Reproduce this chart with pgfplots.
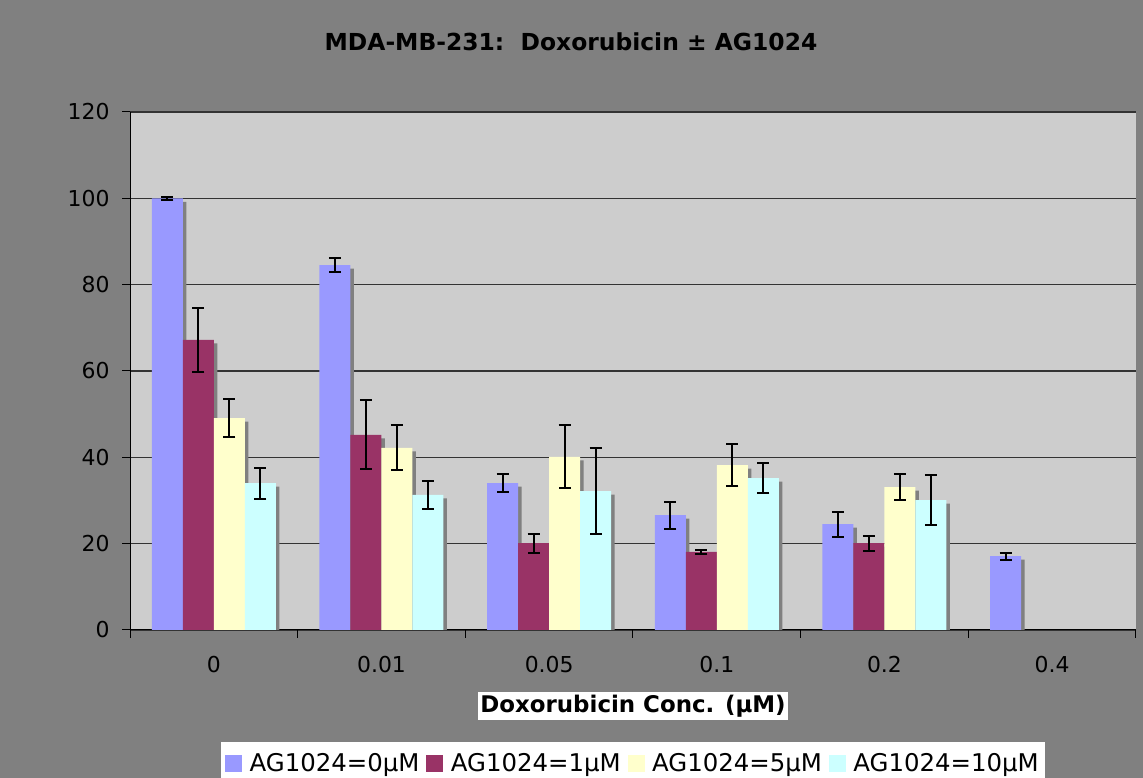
\documentclass[border=0pt]{standalone}
\usepackage{pgfplots}
\pgfplotsset{compat=1.18}
\usepackage{pgfplotstable}
\usepackage{fontspec}
\setmainfont{DejaVu Sans}
\definecolor{bg}{HTML}{808080}
\definecolor{plotbg}{HTML}{CDCDCD}
\definecolor{gridc}{HTML}{333333}
\definecolor{barA}{HTML}{9999FF}
\definecolor{barB}{HTML}{993366}
\definecolor{barC}{HTML}{FFFFCC}
\definecolor{barD}{HTML}{CCFFFF}
\definecolor{shadowc}{HTML}{808080}

\pgfplotstableread{
x y e
0 100.0 0.3
1 84.5 1.6
2 34.0 2.1
3 26.6 3.1
4 24.5 2.9
5 17.1 0.8
}\tblA
\pgfplotstableread{
x y e
0 67.2 7.5
1 45.2 8.0
2 20.1 2.2
3 18.1 0.4
4 20.1 1.75
}\tblB
\pgfplotstableread{
x y e
0 49.1 4.3
1 42.2 5.2
2 40.1 7.3
3 38.2 4.8
4 33.1 3.1
}\tblC
\pgfplotstableread{
x y e
0 34.0 3.6
1 31.3 3.3
2 32.2 10.0
3 35.2 3.5
4 30.1 5.8
}\tblD

\pgfplotsset{
  legsq/.style={legend image code/.code={\fill[#1] (0bp,-8bp) rectangle (16bp,8bp);}},
}

\begin{document}
\begin{tikzpicture}
\useasboundingbox (0,0) rectangle (1143bp,778bp);
\fill[bg] (0,0) rectangle (1143bp,778bp);
\node[font=\bfseries\fontsize{23.5}{28}\selectfont, text=black] at (571bp,736bp) {MDA-MB-231:\ \ Doxorubicin ± AG1024};
\begin{axis}[
  at={(130bp,148bp)}, anchor=south west,
  scale only axis, width=1006bp, height=518bp,
  ybar=0pt, bar width=31bp,
  xmin=-0.5, xmax=5.5, ymin=0, ymax=120,
  ytick={0,20,...,120},
  xtick={-0.5,0.5,...,5.5},
  xticklabels={0,0.01,0.05,0.1,0.2,0.4},
  x tick label as interval,
  axis x line*=bottom, axis y line*=left,
  axis line style={-, black, line width=1bp},
  tick align=outside, major tick length=8bp,
  tick style={black, line width=1bp},
  ymajorgrids, grid style={line width=1.2bp, color=gridc},
  axis background/.style={fill=plotbg},
  /pgf/number format/assume math mode=true,
  tick label style={font=\fontsize{22}{26}\selectfont},
  yticklabel style={xshift=-9bp},
  xticklabel style={yshift=-15bp},
  xlabel={Doxorubicin Conc. (µM)},
  xlabel style={at={(axis description cs:0.5,-0.147)}, anchor=center, fill=white,
    font=\bfseries\fontsize{23}{27}\selectfont, inner xsep=2bp, inner ysep=3bp},
  legend style={at={(axis description cs:0.5,-0.258)}, anchor=center,
    legend columns=4, draw=none, fill=white, font=\fontsize{24.5}{29}\selectfont,
    inner xsep=4bp, inner ysep=10bp,
    /tikz/every odd column/.append style={column sep=6bp},
    /tikz/every even column/.append style={column sep=5bp}},
  error bars/y dir=both, error bars/y explicit,
  error bars/error bar style={black, line width=2bp},
  error bars/error mark options={black, line width=2bp, mark size=6bp, rotate=90},
]
\addlegendimage{legsq=barA}
\addlegendentry{AG1024=0µM}
\addlegendimage{legsq=barB}
\addlegendentry{AG1024=1µM}
\addlegendimage{legsq=barC}
\addlegendentry{AG1024=5µM}
\addlegendimage{legsq=barD}
\addlegendentry{AG1024=10µM}

\addplot[forget plot, bar shift=-46.5bp, fill=barA, draw=none,
  preaction={fill=shadowc, transform canvas={xshift=3.5bp,yshift=-3.5bp}}]
  table[x=x, y=y, y error=e] {\tblA};
\addplot[forget plot, bar shift=-15.5bp, fill=barB, draw=none,
  preaction={fill=shadowc, transform canvas={xshift=3.5bp,yshift=-3.5bp}}]
  table[x=x, y=y, y error=e] {\tblB};
\addplot[forget plot, bar shift=15.5bp, fill=barC, draw=none,
  preaction={fill=shadowc, transform canvas={xshift=3.5bp,yshift=-3.5bp}}]
  table[x=x, y=y, y error=e] {\tblC};
\addplot[forget plot, bar shift=46.5bp, fill=barD, draw=none,
  preaction={fill=shadowc, transform canvas={xshift=3.5bp,yshift=-3.5bp}}]
  table[x=x, y=y, y error=e] {\tblD};
\end{axis}
\end{tikzpicture}
\end{document}
